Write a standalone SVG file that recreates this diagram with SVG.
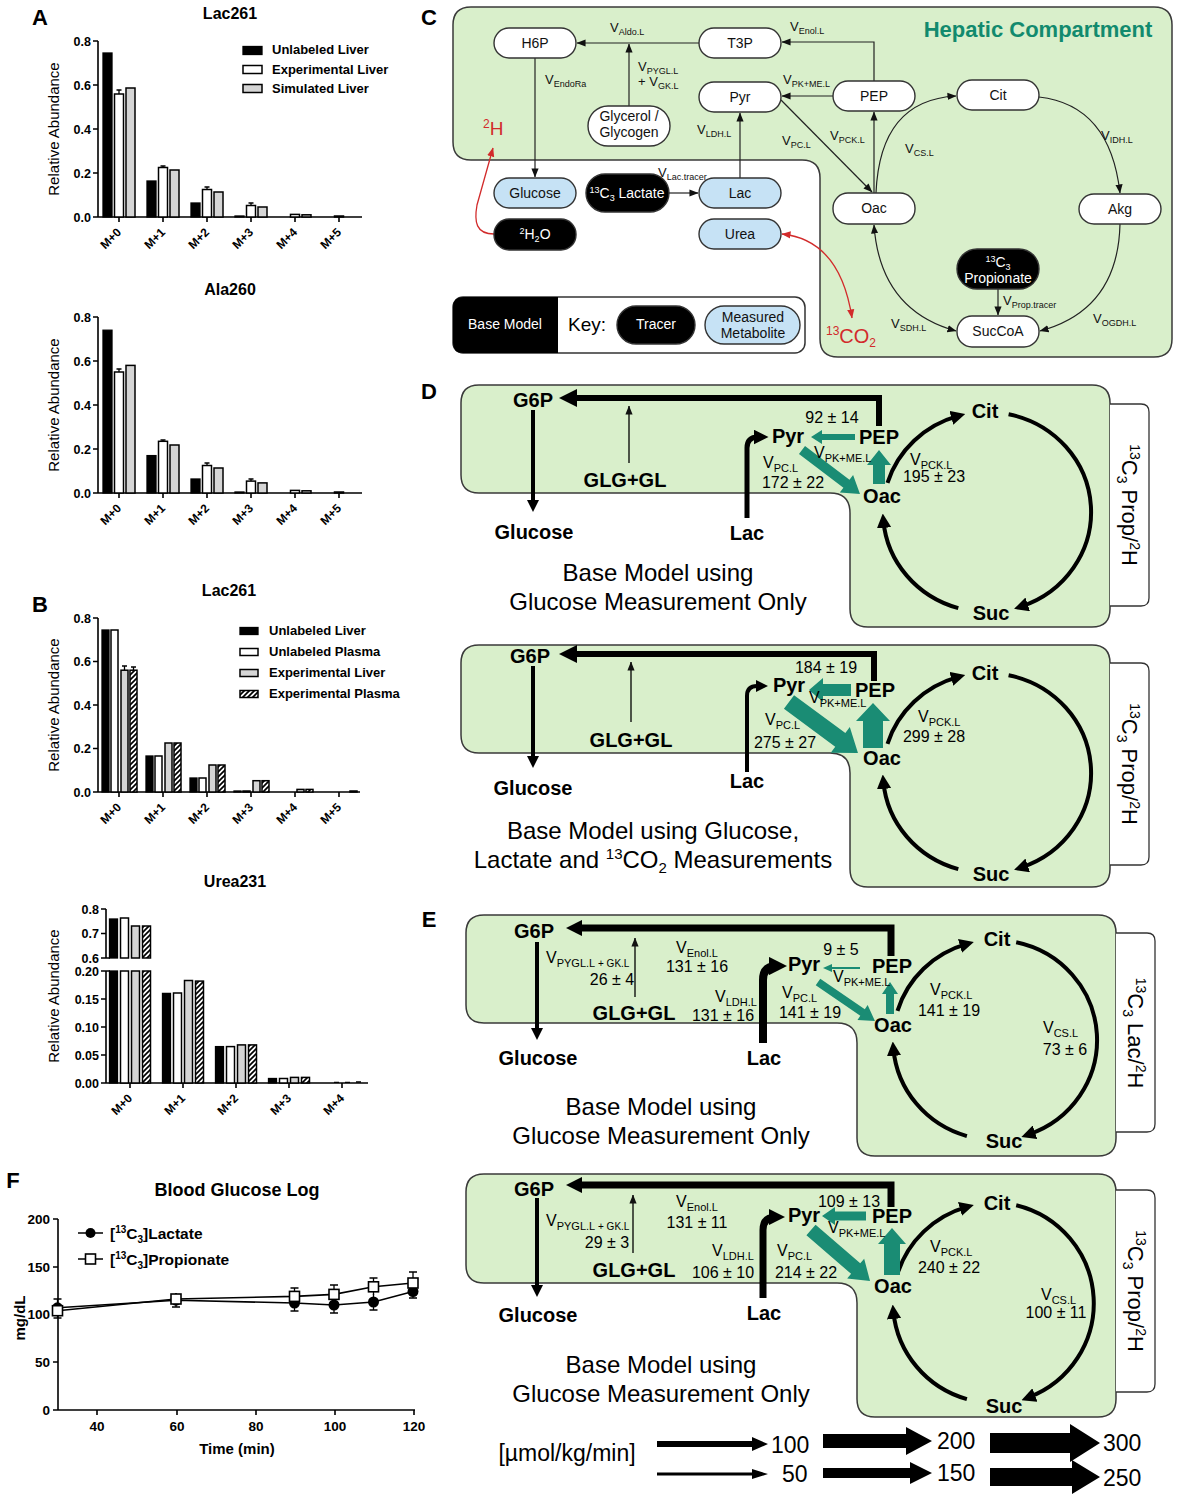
<svg xmlns="http://www.w3.org/2000/svg" width="1177" height="1500" viewBox="0 0 1177 1500">
<defs>
<style>
text{font-family:"Liberation Sans",Arial,Helvetica,sans-serif;fill:#000}
.ax{fill:none;stroke:#000;stroke-width:1.6}
.tk{font-size:12.5px;font-weight:bold;text-anchor:end}
.xl{font-size:12px;font-weight:bold;text-anchor:end}
.bk{fill:#000;stroke:#000;stroke-width:1.3}
.wh{fill:#fff;stroke:#000;stroke-width:1.5}
.gr{fill:#d5d5d5;stroke:#000;stroke-width:1.5}
.ht{fill:url(#hatch);stroke:#000;stroke-width:1.5}
.eb{fill:none;stroke:#000;stroke-width:1.3}
.ttl{font-size:16px;font-weight:bold;text-anchor:middle}
.yl{font-size:15px;text-anchor:middle}
.lg{font-size:13px;font-weight:bold}
.pl{font-size:22px;font-weight:bold;text-anchor:middle}
.cmp{fill:#d9efcb;stroke:#3a3a3a;stroke-width:1.5}
.pill{stroke:#333;stroke-width:1.4}
.nw{fill:#fff}.nb{fill:#000}.nm{fill:#c6e2f5}
.ct{font-size:14px;text-anchor:middle;fill:#111}
.cw{font-size:14px;text-anchor:middle;fill:#fff}
.e{fill:none;stroke:#222;stroke-width:1.2}
.red{fill:none;stroke:#d22b2b;stroke-width:1.3}
.rt{fill:#d22b2b}
.v{font-size:13px;fill:#111}
.s{font-size:9px}
.bn{font-size:20px;font-weight:bold;text-anchor:middle}
.fx{font-size:16px;text-anchor:middle}
.fv{font-size:16px}
.fs{font-size:11px}
.cap{font-size:24px;text-anchor:middle}
.blk{fill:none;stroke:#000}
.thin{fill:none;stroke:#000;stroke-width:1.3}
.gn{fill:#1a8c74}
.brk{fill:#fff;stroke:#333;stroke-width:1.3}
.brt{font-size:22px;text-anchor:middle}
.lt{font-size:23px}
.ftk{font-size:13.5px;font-weight:bold;text-anchor:end}
</style>
<pattern id="hatch" patternUnits="userSpaceOnUse" width="5" height="5">
<rect width="5" height="5" fill="#fff"/>
<path d="M-1,1 L1,-1 M0,5 L5,0 M4,6 L6,4" stroke="#000" stroke-width="1.7"/>
</pattern>
<marker id="ah" viewBox="0 0 10 10" refX="5" refY="5" markerWidth="3" markerHeight="3" orient="auto" markerUnits="strokeWidth"><path d="M0,0 L10,5 L0,10 z" fill="#000"/></marker>
<marker id="ahc" viewBox="0 0 10 10" refX="5" refY="5" markerWidth="3.6" markerHeight="3.6" orient="auto" markerUnits="strokeWidth"><path d="M0,0 L10,5 L0,10 z" fill="#000"/></marker>
<marker id="ah2" viewBox="0 0 10 10" refX="5" refY="5" markerWidth="2.3" markerHeight="2.3" orient="auto" markerUnits="strokeWidth"><path d="M0,0 L10,5 L0,10 z" fill="#000"/></marker>
<marker id="at" viewBox="0 0 10 10" refX="9.5" refY="5" markerWidth="9" markerHeight="9" orient="auto" markerUnits="userSpaceOnUse"><path d="M0,1 L10,5 L0,9 z" fill="#111"/></marker>
<marker id="ats" viewBox="0 0 10 10" refX="9.5" refY="5" markerWidth="9" markerHeight="9" orient="auto-start-reverse" markerUnits="userSpaceOnUse"><path d="M0,1 L10,5 L0,9 z" fill="#111"/></marker>
<marker id="atr" viewBox="0 0 10 10" refX="9.5" refY="5" markerWidth="9" markerHeight="9" orient="auto" markerUnits="userSpaceOnUse"><path d="M0,1 L10,5 L0,9 z" fill="#d22b2b"/></marker>
<marker id="atrs" viewBox="0 0 10 10" refX="9.5" refY="5" markerWidth="9" markerHeight="9" orient="auto-start-reverse" markerUnits="userSpaceOnUse"><path d="M0,1 L10,5 L0,9 z" fill="#d22b2b"/></marker>
</defs>
<rect width="1177" height="1500" fill="#fff"/>

<!-- ============ PANEL A : Lac261 ============ -->
<g id="chartA1">
<text class="pl" x="40" y="25">A</text>
<text class="ttl" x="230" y="19">Lac261</text>
<path class="ax" d="M98 41V217H362M93 41H98M93 85H98M93 129H98M93 173H98M93 217H98M119 217v5M163 217v5M207 217v5M251 217v5M295 217v5M339 217v5"/>
<text class="tk" x="91" y="45.5">0.8</text><text class="tk" x="91" y="89.5">0.6</text><text class="tk" x="91" y="133.5">0.4</text><text class="tk" x="91" y="177.5">0.2</text><text class="tk" x="91" y="221.5">0.0</text>
<text class="yl" transform="translate(59,129) rotate(-90)">Relative  Abundance</text>
<rect class="bk" x="103" y="53" width="9" height="164"/><rect class="wh" x="114.5" y="94" width="9" height="123"/><rect class="gr" x="126" y="88" width="9" height="129"/>
<rect class="bk" x="147" y="181" width="9" height="36"/><rect class="wh" x="158.5" y="167.5" width="9" height="49.5"/><rect class="gr" x="170" y="170" width="9" height="47"/>
<rect class="bk" x="191" y="203" width="9" height="14"/><rect class="wh" x="202.5" y="189.5" width="9" height="27.5"/><rect class="gr" x="214" y="192" width="9" height="25"/>
<rect class="bk" x="235" y="216" width="9" height="1"/><rect class="wh" x="246.5" y="205.5" width="9" height="11.5"/><rect class="gr" x="258" y="207" width="9" height="10"/>
<rect class="wh" x="290.5" y="214.4" width="9" height="2.6"/><rect class="gr" x="302" y="214.8" width="9" height="2.2"/>
<rect class="wh" x="334.5" y="216" width="9" height="1"/>
<path class="eb" d="M119 90V94M116.5 90H121.5M163 166V168M160.5 166H165.5M207 187V190M204.5 187H209.5M251 203V206M248.5 203H253.5"/>
<text class="xl" transform="translate(122,233) rotate(-45)">M+0</text><text class="xl" transform="translate(166,233) rotate(-45)">M+1</text><text class="xl" transform="translate(210,233) rotate(-45)">M+2</text><text class="xl" transform="translate(254,233) rotate(-45)">M+3</text><text class="xl" transform="translate(298,233) rotate(-45)">M+4</text><text class="xl" transform="translate(342,233) rotate(-45)">M+5</text>
<rect class="bk" x="243" y="46.5" width="19" height="8"/><text class="lg" x="272" y="54">Unlabeled Liver</text>
<rect class="wh" x="243" y="65.5" width="19" height="8"/><text class="lg" x="272" y="73.5">Experimental Liver</text>
<rect class="gr" x="243" y="84.5" width="19" height="8"/><text class="lg" x="272" y="93">Simulated Liver</text>
</g>

<!-- ============ PANEL A : Ala260 ============ -->
<g id="chartA2" transform="translate(0,276)">
<text class="ttl" x="230" y="19">Ala260</text>
<path class="ax" d="M98 41V217H362M93 41H98M93 85H98M93 129H98M93 173H98M93 217H98M119 217v5M163 217v5M207 217v5M251 217v5M295 217v5M339 217v5"/>
<text class="tk" x="91" y="45.5">0.8</text><text class="tk" x="91" y="89.5">0.6</text><text class="tk" x="91" y="133.5">0.4</text><text class="tk" x="91" y="177.5">0.2</text><text class="tk" x="91" y="221.5">0.0</text>
<text class="yl" transform="translate(59,129) rotate(-90)">Relative  Abundance</text>
<rect class="bk" x="103" y="54.2" width="9" height="162.8"/><rect class="wh" x="114.5" y="96" width="9" height="121"/><rect class="gr" x="126" y="89.4" width="9" height="127.6"/>
<rect class="bk" x="147" y="179.6" width="9" height="37.4"/><rect class="wh" x="158.5" y="165.3" width="9" height="51.7"/><rect class="gr" x="170" y="169" width="9" height="48"/>
<rect class="bk" x="191" y="203" width="9" height="14"/><rect class="wh" x="202.5" y="189.5" width="9" height="27.5"/><rect class="gr" x="214" y="192" width="9" height="25"/>
<rect class="bk" x="235" y="216" width="9" height="1"/><rect class="wh" x="246.5" y="205.1" width="9" height="11.9"/><rect class="gr" x="258" y="206.9" width="9" height="10.1"/>
<rect class="wh" x="290.5" y="214.4" width="9" height="2.6"/><rect class="gr" x="302" y="214.8" width="9" height="2.2"/>
<rect class="wh" x="334.5" y="216" width="9" height="1"/>
<path class="eb" d="M119 93V96M116.5 93H121.5M163 164V166M160.5 164H165.5M207 187V190M204.5 187H209.5M251 203V205M248.5 203H253.5"/>
<text class="xl" transform="translate(122,233) rotate(-45)">M+0</text><text class="xl" transform="translate(166,233) rotate(-45)">M+1</text><text class="xl" transform="translate(210,233) rotate(-45)">M+2</text><text class="xl" transform="translate(254,233) rotate(-45)">M+3</text><text class="xl" transform="translate(298,233) rotate(-45)">M+4</text><text class="xl" transform="translate(342,233) rotate(-45)">M+5</text>
</g>

<!-- ============ PANEL B : Lac261 ============ -->
<g id="chartB1">
<text class="pl" x="40" y="612">B</text>
<text class="ttl" x="229" y="596">Lac261</text>
<path class="ax" d="M98 618V792H360M93 618H98M93 661.5H98M93 705H98M93 748.5H98M93 792H98M119 792v5M163 792v5M207 792v5M251 792v5M295 792v5M339 792v5"/>
<text class="tk" x="91" y="622.5">0.8</text><text class="tk" x="91" y="666">0.6</text><text class="tk" x="91" y="709.5">0.4</text><text class="tk" x="91" y="753">0.2</text><text class="tk" x="91" y="796.5">0.0</text>
<text class="yl" transform="translate(59,705) rotate(-90)">Relative  Abundance</text>
<rect class="bk" x="102" y="630" width="7" height="162"/><rect class="wh" x="111" y="630" width="7" height="162"/><rect class="gr" x="121" y="670.2" width="7" height="121.8"/><rect class="ht" x="130" y="670.2" width="7" height="121.8"/>
<rect class="bk" x="146" y="756" width="7" height="36"/><rect class="wh" x="155" y="756" width="7" height="36"/><rect class="gr" x="165" y="743" width="7" height="49"/><rect class="ht" x="174" y="743" width="7" height="49"/>
<rect class="bk" x="190" y="778" width="7" height="14"/><rect class="wh" x="199" y="778" width="7" height="14"/><rect class="gr" x="209" y="765" width="7" height="27"/><rect class="ht" x="218" y="765" width="7" height="27"/>
<rect class="bk" x="234" y="791" width="7" height="1"/><rect class="wh" x="243" y="791" width="7" height="1"/><rect class="gr" x="253" y="780.7" width="7" height="11.3"/><rect class="ht" x="262" y="780.7" width="7" height="11.3"/>
<rect class="gr" x="297" y="789.4" width="7" height="2.6"/><rect class="ht" x="306" y="789.4" width="7" height="2.6"/>
<rect class="ht" x="350" y="791" width="7" height="1"/>
<path class="eb" d="M124.5 666V670M122 666H127M133.5 667V670M131 667H136"/>
<text class="xl" transform="translate(122,808) rotate(-45)">M+0</text><text class="xl" transform="translate(166,808) rotate(-45)">M+1</text><text class="xl" transform="translate(210,808) rotate(-45)">M+2</text><text class="xl" transform="translate(254,808) rotate(-45)">M+3</text><text class="xl" transform="translate(298,808) rotate(-45)">M+4</text><text class="xl" transform="translate(342,808) rotate(-45)">M+5</text>
<rect class="bk" x="240" y="627.5" width="18" height="7"/><text class="lg" x="269" y="635">Unlabeled Liver</text>
<rect class="wh" x="240" y="648.5" width="18" height="7"/><text class="lg" x="269" y="656">Unlabeled Plasma</text>
<rect class="gr" x="240" y="669.5" width="18" height="7"/><text class="lg" x="269" y="677">Experimental Liver</text>
<rect class="ht" x="240" y="690.5" width="18" height="7"/><text class="lg" x="269" y="698">Experimental Plasma</text>
</g>

<!-- ============ PANEL B : Urea231 ============ -->
<g id="chartB2">
<text class="ttl" x="235" y="887">Urea231</text>
<path class="ax" d="M106 909V958M101 909H106M101 933.5H106M101 958H110M106 971V1083H368M101 971H110M101 999H106M101 1027H106M101 1055H106M101 1083H106M130 1083v5M183 1083v5M236 1083v5M289 1083v5M342 1083v5"/>
<text class="tk" x="99" y="913.5">0.8</text><text class="tk" x="99" y="938">0.7</text><text class="tk" x="99" y="962.5">0.6</text>
<text class="tk" x="99" y="975.5">0.20</text><text class="tk" x="99" y="1003.5">0.15</text><text class="tk" x="99" y="1031.5">0.10</text><text class="tk" x="99" y="1059.5">0.05</text><text class="tk" x="99" y="1087.5">0.00</text>
<text class="yl" transform="translate(59,996) rotate(-90)">Relative  Abundance</text>
<rect class="bk" x="109.5" y="919" width="8" height="39"/><rect class="wh" x="120.5" y="918" width="8" height="40"/><rect class="gr" x="131.5" y="926" width="8" height="32"/><rect class="ht" x="142.5" y="926" width="8" height="32"/>
<rect class="bk" x="109.5" y="971" width="8" height="112"/><rect class="wh" x="120.5" y="971" width="8" height="112"/><rect class="gr" x="131.5" y="971" width="8" height="112"/><rect class="ht" x="142.5" y="971" width="8" height="112"/>
<rect class="bk" x="162.5" y="993.4" width="8" height="89.6"/><rect class="wh" x="173.5" y="993" width="8" height="90"/><rect class="gr" x="184.5" y="980.5" width="8" height="102.5"/><rect class="ht" x="195.5" y="981.1" width="8" height="101.9"/>
<rect class="bk" x="215.5" y="1046.6" width="8" height="36.4"/><rect class="wh" x="226.5" y="1046.6" width="8" height="36.4"/><rect class="gr" x="237.5" y="1044.9" width="8" height="38.1"/><rect class="ht" x="248.5" y="1044.9" width="8" height="38.1"/>
<rect class="bk" x="268.5" y="1078.5" width="8" height="4.5"/><rect class="wh" x="279.5" y="1078.5" width="8" height="4.5"/><rect class="gr" x="290.5" y="1077.4" width="8" height="5.6"/><rect class="ht" x="301.5" y="1077.4" width="8" height="5.6"/>
<path class="eb" d="M334 1082.4H339M345 1082.4H350M356 1082H361"/>
<text class="xl" transform="translate(133,1099) rotate(-45)">M+0</text><text class="xl" transform="translate(186,1099) rotate(-45)">M+1</text><text class="xl" transform="translate(239,1099) rotate(-45)">M+2</text><text class="xl" transform="translate(292,1099) rotate(-45)">M+3</text><text class="xl" transform="translate(345,1099) rotate(-45)">M+4</text>
</g>

<!-- ============ PANEL F ============ -->
<g id="panelF">
<text class="pl" x="13" y="1188">F</text>
<text x="237" y="1196" font-size="18" font-weight="bold" text-anchor="middle">Blood Glucose Log</text>
<path class="ax" d="M58 1219V1410H415M53 1219H58M53 1267H58M53 1314.5H58M53 1362H58M53 1410H58M97 1410v5M177 1410v5M256 1410v5M335 1410v5M414 1410v5"/>
<text class="ftk" x="50" y="1224">200</text><text class="ftk" x="50" y="1272">150</text><text class="ftk" x="50" y="1319">100</text><text class="ftk" x="50" y="1367">50</text><text class="ftk" x="50" y="1415">0</text>
<g font-size="13.5" font-weight="bold" text-anchor="middle"><text x="97" y="1431">40</text><text x="177" y="1431">60</text><text x="256" y="1431">80</text><text x="335" y="1431">100</text><text x="414" y="1431">120</text></g>
<text x="237" y="1454" font-size="15" font-weight="bold" text-anchor="middle">Time (min)</text>
<text transform="translate(25,1318) rotate(-90)" font-size="15" font-weight="bold" text-anchor="middle">mg/dL</text>
<path class="eb" d="M57.5 1299V1316M53.5 1299H61.5M176 1293V1307M172 1307H180M294.5 1295V1311M290.5 1311H298.5M334 1297V1313M330 1313H338M373.5 1294V1310M369.5 1310H377.5M413 1285V1298M409 1298H417"/>
<path class="eb" d="M57.5 1303V1318M53.5 1318H61.5M176 1293V1305M294.5 1288V1304M290.5 1288H298.5M334 1285V1303M330 1285H338M373.5 1278V1295M369.5 1278H377.5M413 1272V1292M409 1272H417"/>
<polyline fill="none" stroke="#000" stroke-width="1.6" points="57.5,1307.8 176,1300.2 294.5,1303 334,1305 373.5,1302 413,1291.6"/>
<polyline fill="none" stroke="#000" stroke-width="1.6" points="57.5,1310.7 176,1299 294.5,1296.4 334,1294.4 373.5,1286.8 413,1283"/>
<g fill="#000"><circle cx="57.5" cy="1307.8" r="5.5"/><circle cx="176" cy="1300.2" r="5.5"/><circle cx="294.5" cy="1303" r="5.5"/><circle cx="334" cy="1305" r="5.5"/><circle cx="373.5" cy="1302" r="5.5"/><circle cx="413" cy="1291.6" r="5.5"/></g>
<g fill="#fff" stroke="#000" stroke-width="1.6"><rect x="52.5" y="1305.7" width="10" height="10"/><rect x="171" y="1294" width="10" height="10"/><rect x="289.5" y="1291.4" width="10" height="10"/><rect x="329" y="1289.4" width="10" height="10"/><rect x="368.5" y="1281.8" width="10" height="10"/><rect x="408" y="1278" width="10" height="10"/></g>
<path class="eb" d="M78 1233H103M78 1259H103"/>
<circle cx="90.5" cy="1233" r="5" fill="#000"/>
<rect x="85.5" y="1254" width="10" height="10" fill="#fff" stroke="#000" stroke-width="1.6"/>
<text x="110" y="1239" font-size="15.5" font-weight="bold">[<tspan font-size="10" dy="-6">13</tspan><tspan dy="6">C</tspan><tspan font-size="10" dy="4">3</tspan><tspan dy="-4">]Lactate</tspan></text>
<text x="110" y="1265" font-size="15.5" font-weight="bold">[<tspan font-size="10" dy="-6">13</tspan><tspan dy="6">C</tspan><tspan font-size="10" dy="4">3</tspan><tspan dy="-4">]Propionate</tspan></text>
</g>

<!-- ============ PANEL C ============ -->
<g id="panelC">
<text class="pl" x="429" y="25">C</text>
<path class="cmp" d="M471 7H1154Q1172 7 1172 25V339Q1172 357 1154 357H838Q820 357 820 339V178Q820 160 802 160H471Q453 160 453 142V25Q453 7 471 7Z"/>
<text x="1038" y="37" font-size="22" font-weight="bold" text-anchor="middle" style="fill:#128a6e">Hepatic Compartment</text>
<g id="c-key">
<rect x="453" y="297" width="352" height="56" rx="10" fill="#fff" stroke="#333" stroke-width="1.5"/>
<path d="M463 297H558V353H463Q453 353 453 343V307Q453 297 463 297Z" fill="#000"/>
<text class="cw" x="505" y="329" font-size="13.5">Base Model</text>
<text x="568" y="331" font-size="19">Key:</text>
<rect class="pill nb" x="617" y="306" width="78" height="38" rx="19"/>
<text class="cw" x="656" y="329">Tracer</text>
<rect class="pill nm" x="705" y="306" width="95" height="38" rx="19"/>
<text class="ct" x="753" y="322" font-size="13.5">Measured</text>
<text class="ct" x="753" y="338" font-size="13.5">Metabolite</text>
</g>
<g id="c-connectors">
<path class="e" d="M699 43H577" marker-end="url(#at)"/>
<path class="e" d="M629 106V44" marker-end="url(#at)"/>
<path class="e" d="M535 58V177" marker-end="url(#at)"/>
<path class="e" d="M874 81V42H782" marker-end="url(#at)"/>
<path class="e" d="M833 96H782" marker-end="url(#at)"/>
<path class="e" d="M781 100L872 192" marker-end="url(#at)"/>
<path class="e" d="M874 193V112" marker-end="url(#at)"/>
<path class="e" d="M876 193Q880 100 956 96" marker-end="url(#at)"/>
<path class="e" d="M1039 97Q1110 105 1120 193" marker-end="url(#at)"/>
<path class="e" d="M1120 224Q1118 310 1040 331" marker-end="url(#at)"/>
<path class="e" d="M956 331Q880 310 874 225" marker-start="url(#ats)" marker-end="url(#at)"/>
<path class="e" d="M998 289V315" marker-end="url(#at)"/>
<path class="e" d="M740 178V113" marker-end="url(#at)"/>
<path class="e" d="M669 193H698" marker-end="url(#at)"/>
<path class="red" d="M494 234C476 234 474 222 477 205L493 148" marker-end="url(#atr)"/>
<path class="red" d="M782 234Q840 240 852 318" marker-start="url(#atrs)" marker-end="url(#atr)"/>
<text class="v" x="610" y="32">V<tspan class="s" dy="3">Aldo.L</tspan></text>
<text class="v" x="638" y="71">V<tspan class="s" dy="3">PYGL.L</tspan></text>
<text class="v" x="638" y="86">+ V<tspan class="s" dy="3">GK.L</tspan></text>
<text class="v" x="545" y="84">V<tspan class="s" dy="3">EndoRa</tspan></text>
<text class="v" x="790" y="31">V<tspan class="s" dy="3">Enol.L</tspan></text>
<text class="v" x="783" y="84">V<tspan class="s" dy="3">PK+ME.L</tspan></text>
<text class="v" x="782" y="145">V<tspan class="s" dy="3">PC.L</tspan></text>
<text class="v" x="830" y="140">V<tspan class="s" dy="3">PCK.L</tspan></text>
<text class="v" x="905" y="153">V<tspan class="s" dy="3">CS.L</tspan></text>
<text class="v" x="1101" y="140">V<tspan class="s" dy="3">IDH.L</tspan></text>
<text class="v" x="1093" y="323">V<tspan class="s" dy="3">OGDH.L</tspan></text>
<text class="v" x="891" y="328">V<tspan class="s" dy="3">SDH.L</tspan></text>
<text class="v" x="1003" y="305">V<tspan class="s" dy="3">Prop.tracer</tspan></text>
<text class="v" x="697" y="134">V<tspan class="s" dy="3">LDH.L</tspan></text>
<text class="v" x="658" y="177">V<tspan class="s" dy="3">Lac.tracer</tspan></text>
<text class="rt" x="483" y="135" font-size="19"><tspan font-size="12" dy="-7">2</tspan><tspan dy="7">H</tspan></text>
<text class="rt" x="826" y="343" font-size="20"><tspan font-size="12" dy="-8">13</tspan><tspan dy="8">CO</tspan><tspan font-size="12" dy="4">2</tspan></text>
</g>
<g id="c-h6p"><rect class="pill nw" x="494" y="28" width="82" height="30" rx="15"/><text class="ct" x="535" y="48">H6P</text></g>
<g id="c-t3p"><rect class="pill nw" x="699" y="28" width="82" height="30" rx="15"/><text class="ct" x="740" y="48">T3P</text></g>
<g id="c-pyr"><rect class="pill nw" x="699" y="82" width="82" height="30" rx="15"/><text class="ct" x="740" y="102">Pyr</text></g>
<g id="c-pep"><rect class="pill nw" x="833" y="81" width="82" height="30" rx="15"/><text class="ct" x="874" y="101">PEP</text></g>
<g id="c-cit"><rect class="pill nw" x="957" y="80" width="82" height="30" rx="15"/><text class="ct" x="998" y="100">Cit</text></g>
<g id="c-glycerol"><rect class="pill nw" x="588" y="106" width="82" height="40" rx="20"/><text class="ct" x="629" y="121">Glycerol /</text><text class="ct" x="629" y="137">Glycogen</text></g>
<g id="c-oac"><rect class="pill nw" x="833" y="193" width="82" height="31" rx="15"/><text class="ct" x="874" y="213">Oac</text></g>
<g id="c-akg"><rect class="pill nw" x="1079" y="194" width="82" height="30" rx="15"/><text class="ct" x="1120" y="214">Akg</text></g>
<g id="c-propionate"><rect class="pill nb" x="957" y="249" width="82" height="40" rx="20"/><text class="cw" x="998" y="267"><tspan font-size="9" dy="-5">13</tspan><tspan dy="5">C</tspan><tspan font-size="9" dy="3">3</tspan></text><text class="cw" x="998" y="283">Propionate</text></g>
<g id="c-succoa"><rect class="pill nw" x="957" y="316" width="82" height="31" rx="15"/><text class="ct" x="998" y="336">SucCoA</text></g>
<g id="c-glucose"><rect class="pill nm" x="494" y="178" width="82" height="30" rx="15"/><text class="ct" x="535" y="198">Glucose</text></g>
<g id="c-lactracer"><rect class="pill nb" x="586" y="174" width="83" height="38" rx="19"/><text class="cw" x="627" y="198"><tspan font-size="9" dy="-5">13</tspan><tspan dy="5">C</tspan><tspan font-size="9" dy="3">3</tspan><tspan dy="-3"> Lactate</tspan></text></g>
<g id="c-lac"><rect class="pill nm" x="699" y="178" width="82" height="30" rx="15"/><text class="ct" x="740" y="198">Lac</text></g>
<g id="c-h2o"><rect class="pill nb" x="494" y="219" width="82" height="31" rx="15"/><text class="cw" x="535" y="239"><tspan font-size="9" dy="-5">2</tspan><tspan dy="5">H</tspan><tspan font-size="9" dy="3">2</tspan><tspan dy="-3">O</tspan></text></g>
<g id="c-urea"><rect class="pill nm" x="699" y="219" width="82" height="30" rx="15"/><text class="ct" x="740" y="239">Urea</text></g>
</g>

<!-- ============ PANEL D (top) ============ -->
<g id="panelD1">
<text class="pl" x="429" y="399">D</text>
<path class="cmp" d="M479 385H1092Q1110 385 1110 403V609Q1110 627 1092 627H868Q850 627 850 609V513Q850 493 830 493H479Q461 493 461 475V403Q461 385 479 385Z"/>
<path class="brk" d="M1110 404H1141Q1149 404 1149 412V598Q1149 606 1141 606H1110"/>
<text class="brt" transform="translate(1122,505) rotate(90)"><tspan font-size="14" dy="-8">13</tspan><tspan dy="8">C</tspan><tspan font-size="14" dy="5">3</tspan><tspan dy="-5"> Prop/</tspan><tspan font-size="14" dy="-8">2</tspan><tspan dy="8">H</tspan></text>
<g id="d1-connectors">
<path class="blk" stroke-width="6" d="M879 426V398H568" marker-end="url(#ah)"/>
<path class="blk" stroke-width="4" d="M533 410V506" marker-end="url(#ah)"/>
<path class="blk" stroke-width="5" d="M747 518V448Q747 437 758 437H761" marker-end="url(#ah)"/>
<path class="thin" d="M629 463V406" marker-end="url(#at)"/>
<path class="blk" stroke-width="4" d="M887.5 482.8A104 100 0 0 1 958.3 415.9" marker-end="url(#ahc)"/>
<path class="blk" stroke-width="4" d="M1008.6 414.2A104 100 0 0 1 1020.9 606.6" marker-end="url(#ahc)"/>
<path class="blk" stroke-width="4" d="M958.3 608.1A104 100 0 0 1 883.4 520.7" marker-end="url(#ahc)"/>
<polygon class="gn" points="855,434 822,434 822,430 811,437 822,444 822,440 855,440"/>
<polygon class="gn" points="873,484 873,465 867,465 879,450 891,465 885,465 885,484"/>
<polygon class="gn" transform="translate(802,450) rotate(37.2)" points="0,-5 55.8,-5 55.8,-11 72.8,0 55.8,11 55.8,5 0,5"/>
</g>
<text class="fx" x="832" y="423">92 ± 14</text>
<text class="fv" x="814" y="458">V<tspan class="fs" dy="4">PK+ME.L</tspan></text>
<text class="fv" x="763" y="468">V<tspan class="fs" dy="4">PC.L</tspan></text>
<text class="fx" x="793" y="488">172 ± 22</text>
<text class="fv" x="910" y="465">V<tspan class="fs" dy="4">PCK.L</tspan></text>
<text class="fx" x="934" y="482">195 ± 23</text>
<g id="d1-g6p"><text class="bn" x="533" y="407">G6P</text></g>
<g id="d1-glucose"><text class="bn" x="534" y="539">Glucose</text></g>
<g id="d1-lac"><text class="bn" x="747" y="540">Lac</text></g>
<g id="d1-glg"><text class="bn" x="625" y="487">GLG+GL</text></g>
<g id="d1-pyr"><text class="bn" x="788" y="443">Pyr</text></g>
<g id="d1-pep"><text class="bn" x="879" y="444">PEP</text></g>
<g id="d1-oac"><text class="bn" x="882" y="503">Oac</text></g>
<g id="d1-cit"><text class="bn" x="985" y="418">Cit</text></g>
<g id="d1-suc"><text class="bn" x="991" y="620">Suc</text></g>
<text class="cap" x="658" y="581">Base Model using</text>
<text class="cap" x="658" y="610">Glucose Measurement Only</text>
</g>

<!-- ============ PANEL D (bottom) ============ -->
<g id="panelD2">
<path class="cmp" d="M479 645H1092Q1110 645 1110 663V869Q1110 887 1092 887H868Q850 887 850 869V773Q850 753 830 753H479Q461 753 461 735V663Q461 645 479 645Z"/>
<path class="brk" d="M1110 663H1141Q1149 663 1149 671V857Q1149 865 1141 865H1110"/>
<text class="brt" transform="translate(1122,764) rotate(90)"><tspan font-size="14" dy="-8">13</tspan><tspan dy="8">C</tspan><tspan font-size="14" dy="5">3</tspan><tspan dy="-5"> Prop/</tspan><tspan font-size="14" dy="-8">2</tspan><tspan dy="8">H</tspan></text>
<g id="d2-connectors">
<path class="blk" stroke-width="6" d="M874 681V654H568" marker-end="url(#ah)"/>
<path class="blk" stroke-width="4" d="M533 666V762" marker-end="url(#ah)"/>
<path class="blk" stroke-width="4" d="M747 772V696Q747 686 757 686H762" marker-end="url(#ah)"/>
<path class="thin" d="M631 722V662" marker-end="url(#at)"/>
<path class="blk" stroke-width="4" d="M887.5 743.8A104 100 0 0 1 958.3 676.9" marker-end="url(#ahc)"/>
<path class="blk" stroke-width="4" d="M1008.6 675.2A104 100 0 0 1 1020.9 867.6" marker-end="url(#ahc)"/>
<path class="blk" stroke-width="4" d="M958.3 869.1A104 100 0 0 1 883.4 781.7" marker-end="url(#ahc)"/>
<polygon class="gn" points="851,684 823,684 823,678 809,690 823,702 823,696 851,696"/>
<polygon class="gn" points="863,748 863,721 856,721 873,703 890,721 883,721 883,748"/>
<polygon class="gn" transform="translate(789,702) rotate(36.5)" points="0,-8.5 63.8,-8.5 63.8,-16 85.8,0 63.8,16 63.8,8.5 0,8.5"/>
</g>
<text class="fx" x="826" y="673">184 ± 19</text>
<text class="fv" x="809" y="703">V<tspan class="fs" dy="4">PK+ME.L</tspan></text>
<text class="fv" x="765" y="725">V<tspan class="fs" dy="4">PC.L</tspan></text>
<text class="fx" x="785" y="748">275 ± 27</text>
<text class="fv" x="918" y="722">V<tspan class="fs" dy="4">PCK.L</tspan></text>
<text class="fx" x="934" y="742">299 ± 28</text>
<g id="d2-g6p"><text class="bn" x="530" y="663">G6P</text></g>
<g id="d2-glucose"><text class="bn" x="533" y="795">Glucose</text></g>
<g id="d2-lac"><text class="bn" x="747" y="788">Lac</text></g>
<g id="d2-glg"><text class="bn" x="631" y="747">GLG+GL</text></g>
<g id="d2-pyr"><text class="bn" x="789" y="692">Pyr</text></g>
<g id="d2-pep"><text class="bn" x="875" y="697">PEP</text></g>
<g id="d2-oac"><text class="bn" x="882" y="765">Oac</text></g>
<g id="d2-cit"><text class="bn" x="985" y="680">Cit</text></g>
<g id="d2-suc"><text class="bn" x="991" y="881">Suc</text></g>
<text class="cap" x="653" y="839">Base Model using Glucose,</text>
<text class="cap" x="653" y="868">Lactate and <tspan font-size="15" dy="-9">13</tspan><tspan dy="9">CO</tspan><tspan font-size="15" dy="5">2</tspan><tspan dy="-5"> Measurements</tspan></text>
</g>

<!-- ============ PANEL E (top) ============ -->
<g id="panelE1">
<text class="pl" x="429" y="927">E</text>
<path class="cmp" d="M484 915H1098Q1116 915 1116 933V1138Q1116 1156 1098 1156H875Q857 1156 857 1138V1043Q857 1023 837 1023H484Q466 1023 466 1005V933Q466 915 484 915Z"/>
<path class="brk" d="M1116 933H1147Q1155 933 1155 941V1124Q1155 1132 1147 1132H1116"/>
<text class="brt" transform="translate(1128,1033) rotate(90)"><tspan font-size="14" dy="-8">13</tspan><tspan dy="8">C</tspan><tspan font-size="14" dy="5">3</tspan><tspan dy="-5"> Lac/</tspan><tspan font-size="14" dy="-8">2</tspan><tspan dy="8">H</tspan></text>
<g id="e1-connectors">
<path class="blk" stroke-width="7" d="M891 956V928H574" marker-end="url(#ah2)"/>
<path class="blk" stroke-width="4" d="M537 942V1034" marker-end="url(#ah)"/>
<path class="blk" stroke-width="8" d="M763 1043V980Q763 966 777 966H778" marker-end="url(#ah2)"/>
<path class="thin" d="M635 997V938" marker-end="url(#at)"/>
<path class="blk" stroke-width="4" d="M897.5 1010.8A102 100 0 0 1 966.9 943.9" marker-end="url(#ahc)"/>
<path class="blk" stroke-width="4" d="M1016.2 942.2A102 100 0 0 1 1028.2 1134.6" marker-end="url(#ahc)"/>
<path class="blk" stroke-width="4" d="M966.9 1136.1A102 100 0 0 1 893.4 1048.7" marker-end="url(#ahc)"/>
<polygon class="gn" points="860,967 832,967 832,964 823,968 832,972 832,969 860,969"/>
<polygon class="gn" points="886,1014 886,994 882,994 890,982 898,994 894,994 894,1014"/>
<polygon class="gn" transform="translate(818,982) rotate(34.4)" points="0,-4 54,-4 54,-9 69,0 54,9 54,4 0,4"/>
</g>
<text class="fv" x="546" y="963">V<tspan class="fs" dy="4">PYGL.L</tspan><tspan font-size="10"> + GK.L</tspan></text>
<text class="fx" x="612" y="985">26 ± 4</text>
<text class="fv" x="676" y="953">V<tspan class="fs" dy="4">Enol.L</tspan></text>
<text class="fx" x="697" y="972">131 ± 16</text>
<text class="fx" x="841" y="955">9 ± 5</text>
<text class="fv" x="833" y="982">V<tspan class="fs" dy="4">PK+ME.L</tspan></text>
<text class="fv" x="715" y="1002">V<tspan class="fs" dy="4">LDH.L</tspan></text>
<text class="fx" x="723" y="1021">131 ± 16</text>
<text class="fv" x="782" y="998">V<tspan class="fs" dy="4">PC.L</tspan></text>
<text class="fx" x="810" y="1018">141 ± 19</text>
<text class="fv" x="930" y="995">V<tspan class="fs" dy="4">PCK.L</tspan></text>
<text class="fx" x="949" y="1016">141 ± 19</text>
<text class="fv" x="1043" y="1033">V<tspan class="fs" dy="4">CS.L</tspan></text>
<text class="fx" x="1065" y="1055">73 ± 6</text>
<g id="e1-g6p"><text class="bn" x="534" y="938">G6P</text></g>
<g id="e1-glucose"><text class="bn" x="538" y="1065">Glucose</text></g>
<g id="e1-lac"><text class="bn" x="764" y="1065">Lac</text></g>
<g id="e1-glg"><text class="bn" x="634" y="1020">GLG+GL</text></g>
<g id="e1-pyr"><text class="bn" x="804" y="971">Pyr</text></g>
<g id="e1-pep"><text class="bn" x="892" y="973">PEP</text></g>
<g id="e1-oac"><text class="bn" x="893" y="1032">Oac</text></g>
<g id="e1-cit"><text class="bn" x="997" y="946">Cit</text></g>
<g id="e1-suc"><text class="bn" x="1004" y="1148">Suc</text></g>
<text class="cap" x="661" y="1115">Base Model using</text>
<text class="cap" x="661" y="1144">Glucose Measurement Only</text>
</g>

<!-- ============ PANEL E (bottom) ============ -->
<g id="panelE2">
<path class="cmp" d="M484 1174H1098Q1116 1174 1116 1192V1399Q1116 1417 1098 1417H875Q857 1417 857 1399V1303Q857 1283 837 1283H484Q466 1283 466 1265V1192Q466 1174 484 1174Z"/>
<path class="brk" d="M1116 1190H1147Q1155 1190 1155 1198V1384Q1155 1392 1147 1392H1116"/>
<text class="brt" transform="translate(1128,1291) rotate(90)"><tspan font-size="14" dy="-8">13</tspan><tspan dy="8">C</tspan><tspan font-size="14" dy="5">3</tspan><tspan dy="-5"> Prop/</tspan><tspan font-size="14" dy="-8">2</tspan><tspan dy="8">H</tspan></text>
<g id="e2-connectors">
<path class="blk" stroke-width="7" d="M891 1207V1185H574" marker-end="url(#ah2)"/>
<path class="blk" stroke-width="4" d="M537 1198V1291" marker-end="url(#ah)"/>
<path class="blk" stroke-width="7" d="M763 1298V1230Q763 1217 776 1217H777" marker-end="url(#ah2)"/>
<path class="thin" d="M633 1253V1195" marker-end="url(#at)"/>
<path class="blk" stroke-width="4" d="M897.5 1273.8A102 101 0 0 1 966.9 1206.9" marker-end="url(#ahc)"/>
<path class="blk" stroke-width="4" d="M1016.2 1205.2A102 101 0 0 1 1028.2 1397.6" marker-end="url(#ahc)"/>
<path class="blk" stroke-width="4" d="M966.9 1399.1A102 101 0 0 1 893.4 1311.7" marker-end="url(#ahc)"/>
<polygon class="gn" points="866,1211.5 835,1211.5 835,1207 822,1216 835,1225 835,1220.5 866,1220.5"/>
<polygon class="gn" points="884,1275 884,1244 878,1244 892,1228 906,1244 900,1244 900,1275"/>
<polygon class="gn" transform="translate(811,1230) rotate(40.8)" points="0,-7 59,-7 59,-13 78,0 59,13 59,7 0,7"/>
</g>
<text class="fv" x="546" y="1226">V<tspan class="fs" dy="4">PYGL.L</tspan><tspan font-size="10"> + GK.L</tspan></text>
<text class="fx" x="607" y="1248">29 ± 3</text>
<text class="fv" x="676" y="1207">V<tspan class="fs" dy="4">Enol.L</tspan></text>
<text class="fx" x="697" y="1228">131 ± 11</text>
<text class="fx" x="849" y="1207">109 ± 13</text>
<text class="fv" x="828" y="1233">V<tspan class="fs" dy="4">PK+ME.L</tspan></text>
<text class="fv" x="712" y="1256">V<tspan class="fs" dy="4">LDH.L</tspan></text>
<text class="fx" x="723" y="1278">106 ± 10</text>
<text class="fv" x="777" y="1256">V<tspan class="fs" dy="4">PC.L</tspan></text>
<text class="fx" x="806" y="1278">214 ± 22</text>
<text class="fv" x="930" y="1252">V<tspan class="fs" dy="4">PCK.L</tspan></text>
<text class="fx" x="949" y="1273">240 ± 22</text>
<text class="fv" x="1041" y="1300">V<tspan class="fs" dy="4">CS.L</tspan></text>
<text class="fx" x="1056" y="1318">100 ± 11</text>
<g id="e2-g6p"><text class="bn" x="534" y="1196">G6P</text></g>
<g id="e2-glucose"><text class="bn" x="538" y="1322">Glucose</text></g>
<g id="e2-lac"><text class="bn" x="764" y="1320">Lac</text></g>
<g id="e2-glg"><text class="bn" x="634" y="1277">GLG+GL</text></g>
<g id="e2-pyr"><text class="bn" x="804" y="1222">Pyr</text></g>
<g id="e2-pep"><text class="bn" x="892" y="1223">PEP</text></g>
<g id="e2-oac"><text class="bn" x="893" y="1293">Oac</text></g>
<g id="e2-cit"><text class="bn" x="997" y="1210">Cit</text></g>
<g id="e2-suc"><text class="bn" x="1004" y="1413">Suc</text></g>
<text class="cap" x="661" y="1373">Base Model using</text>
<text class="cap" x="661" y="1402">Glucose Measurement Only</text>
</g>

<!-- ============ FLUX LEGEND ============ -->
<g id="flux-legend">
<text class="lt" x="567" y="1461" text-anchor="middle">[µmol/kg/min]</text>
<polygon points="657,1441 752,1441 752,1437 768,1444 752,1451 752,1447 657,1447"/>
<polygon points="657,1472.5 752,1472.5 752,1469 768,1474 752,1479 752,1475.5 657,1475.5"/>
<polygon points="823,1434 906,1434 906,1427 932,1441 906,1455 906,1448 823,1448"/>
<polygon points="823,1468 910,1468 910,1462 932,1473 910,1484 910,1478 823,1478"/>
<polygon points="990,1433 1070,1433 1070,1424 1100,1443 1070,1462 1070,1453 990,1453"/>
<polygon points="990,1468 1072,1468 1072,1460 1100,1477 1072,1494 1072,1486 990,1486"/>
<text class="lt" x="771" y="1453">100</text>
<text class="lt" x="782" y="1482">50</text>
<text class="lt" x="937" y="1449">200</text>
<text class="lt" x="937" y="1481">150</text>
<text class="lt" x="1103" y="1451">300</text>
<text class="lt" x="1103" y="1486">250</text>
</g>
</svg>
